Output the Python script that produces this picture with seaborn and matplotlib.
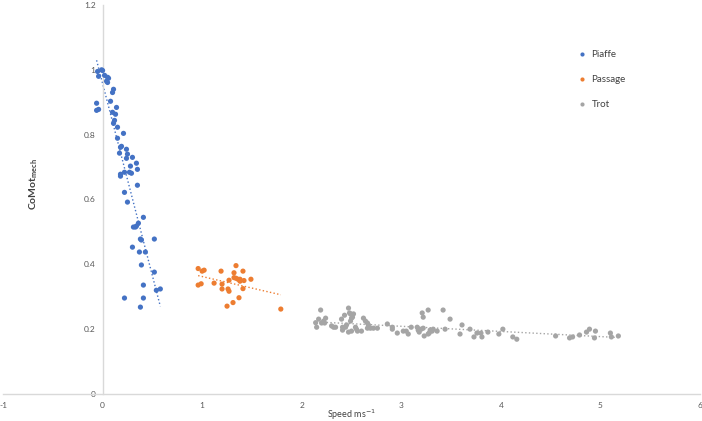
import pandas as pd
import numpy as np
import matplotlib
matplotlib.use("Agg")
import matplotlib.pyplot as plt
import seaborn as sns

# --- data ---
piaffe_speed = [-0.05, -0.01, 0.00, -0.04, 0.02, 0.05, 0.06, 0.04, 0.05, 0.11,
                0.10, 0.08, -0.06, -0.06, -0.04, 0.14, 0.10, 0.13, 0.12, 0.11,
                0.15, 0.21, 0.15, 0.19, 0.18, 0.24, 0.17, 0.25, 0.24, 0.30,
                0.28, 0.34, 0.35, 0.18, 0.18, 0.22, 0.27, 0.29, 0.35, 0.22,
                0.25, 0.41, 0.31, 0.33, 0.34, 0.36, 0.38, 0.39, 0.52, 0.30,
                0.37, 0.43, 0.39, 0.52, 0.41, 0.54, 0.58, 0.22, 0.41, 0.38]
piaffe_comot = [0.995, 1.000, 0.998, 0.980, 0.983, 0.977, 0.974, 0.965, 0.961, 0.940,
                0.930, 0.903, 0.897, 0.875, 0.878, 0.884, 0.869, 0.863, 0.844, 0.835,
                0.823, 0.804, 0.789, 0.764, 0.761, 0.755, 0.743, 0.740, 0.727, 0.730,
                0.703, 0.712, 0.693, 0.678, 0.672, 0.684, 0.684, 0.681, 0.644, 0.622,
                0.592, 0.545, 0.515, 0.515, 0.518, 0.527, 0.478, 0.475, 0.478, 0.453,
                0.438, 0.438, 0.398, 0.376, 0.336, 0.320, 0.324, 0.296, 0.296, 0.268]

passage_speed = [0.96, 1.00, 1.02, 1.19, 1.34, 1.41, 1.32, 0.96, 0.99, 1.12,
                 1.20, 1.27, 1.32, 1.34, 1.36, 1.38, 1.38, 1.42, 1.49, 1.20,
                 1.26, 1.27, 1.41, 1.37, 1.31, 1.25, 1.79]
passage_comot = [0.387, 0.379, 0.382, 0.379, 0.396, 0.379, 0.374, 0.336, 0.340, 0.342,
                 0.339, 0.351, 0.359, 0.357, 0.354, 0.354, 0.348, 0.350, 0.354, 0.324,
                 0.324, 0.317, 0.325, 0.297, 0.282, 0.271, 0.262]

trot_speed = [2.14, 2.15, 2.17, 2.19, 2.20, 2.22, 2.24, 2.23, 2.30, 2.32,
              2.34, 2.40, 2.41, 2.41, 2.43, 2.44, 2.45, 2.47, 2.48, 2.49,
              2.49, 2.50, 2.52, 2.51, 2.50, 2.47, 2.54, 2.55, 2.56, 2.60,
              2.62, 2.64, 2.66, 2.66, 2.67, 2.69, 2.72, 2.76, 2.86, 2.91,
              2.91, 2.96, 3.02, 3.05, 3.07, 3.10, 3.16, 3.17, 3.18, 3.21,
              3.22, 3.27, 3.20, 3.22, 3.23, 3.27, 3.28, 3.29, 3.31, 3.32,
              3.36, 3.42, 3.44, 3.49, 3.59, 3.61, 3.69, 3.73, 3.76, 3.80,
              3.81, 3.87, 3.98, 4.02, 4.12, 4.16, 4.55, 4.69, 4.72, 4.79,
              4.86, 4.89, 4.95, 4.94, 5.10, 5.11, 5.18]
trot_comot = [0.220, 0.206, 0.231, 0.259, 0.219, 0.225, 0.234, 0.219, 0.210, 0.206,
              0.206, 0.231, 0.206, 0.197, 0.243, 0.206, 0.213, 0.265, 0.250, 0.247,
              0.225, 0.234, 0.247, 0.237, 0.194, 0.191, 0.206, 0.200, 0.194, 0.194,
              0.234, 0.225, 0.219, 0.203, 0.213, 0.203, 0.203, 0.203, 0.216, 0.206,
              0.200, 0.188, 0.194, 0.194, 0.185, 0.206, 0.206, 0.197, 0.191, 0.250,
              0.237, 0.259, 0.200, 0.203, 0.179, 0.185, 0.188, 0.197, 0.194, 0.200,
              0.194, 0.259, 0.200, 0.231, 0.185, 0.213, 0.200, 0.176, 0.188, 0.188,
              0.176, 0.191, 0.185, 0.200, 0.176, 0.169, 0.179, 0.173, 0.176, 0.182,
              0.191, 0.200, 0.194, 0.173, 0.188, 0.176, 0.179]

gaits = ['Piaffe', 'Passage', 'Trot']
colors = ['#4472C4', '#ED7D31', '#A5A5A5']
x_ticks = [-1, 0, 1, 2, 3, 4, 5, 6]
y_ticks = [0, 0.2, 0.4, 0.6, 0.8, 1, 1.2]

df = pd.concat([
    pd.DataFrame({'speed': piaffe_speed, 'comot': piaffe_comot, 'gait': 'Piaffe'}),
    pd.DataFrame({'speed': passage_speed, 'comot': passage_comot, 'gait': 'Passage'}),
    pd.DataFrame({'speed': trot_speed, 'comot': trot_comot, 'gait': 'Trot'}),
], ignore_index=True)

sns.set_style("white")
plt.rcParams['font.family'] = ['Lato', 'DejaVu Sans']

fig = plt.figure(figsize=(7.02, 4.21), dpi=100)
ax = fig.add_axes([3 / 702, 27 / 421, 697 / 702, 389 / 421])

palette = dict(zip(gaits, colors))
sns.scatterplot(data=df, x='speed', y='comot', hue='gait', hue_order=gaits,
                palette=palette, s=14, linewidth=0, ax=ax, zorder=3)

# linear trendlines, dotted like Excel
for g in gaits:
    sub = df[df['gait'] == g]
    sns.regplot(data=sub, x='speed', y='comot', scatter=False, ci=None, ax=ax,
                color=palette[g], line_kws={'linestyle': ':', 'linewidth': 1.0})

ax.set_xlim(-1, 6)
ax.set_ylim(0, 1.2)
ax.set_xticks(x_ticks)
ax.set_xticklabels([str(t) for t in x_ticks])
ax.set_yticks(y_ticks)
ax.set_yticklabels(['0', '0.2', '0.4', '0.6', '0.8', '1', '1.2'])

for side in ['top', 'right']:
    ax.spines[side].set_visible(False)
ax.spines['left'].set_position(('data', 0))
ax.spines['bottom'].set_position(('data', 0))
for side in ['left', 'bottom']:
    ax.spines[side].set_color('#D9D9D9')
    ax.spines[side].set_linewidth(1.0)
ax.tick_params(axis='both', length=0, labelsize=6, labelcolor='#595959')
ax.tick_params(axis='x', pad=6)
ax.tick_params(axis='y', pad=5)

ax.set_xlabel('Speed ms$^{-1}$', fontsize=6.5, color='#404040')
ax.xaxis.set_label_coords(0.5, -0.036)
ax.set_ylabel('CoMot$_{\\mathregular{mech}}$', fontsize=7.5, color='#404040',
              fontweight='bold')
ax.yaxis.set_label_coords(0.053, 0.54)

ax.legend(frameon=False, loc='upper left', bbox_to_anchor=(0.8235, 0.884),
          fontsize=7, borderaxespad=0, borderpad=0, handlelength=1,
          handletextpad=0.5, labelspacing=1.65, markerscale=0.8,
          labelcolor='#404040', title=None)

fig.savefig('out.png', dpi=100)
